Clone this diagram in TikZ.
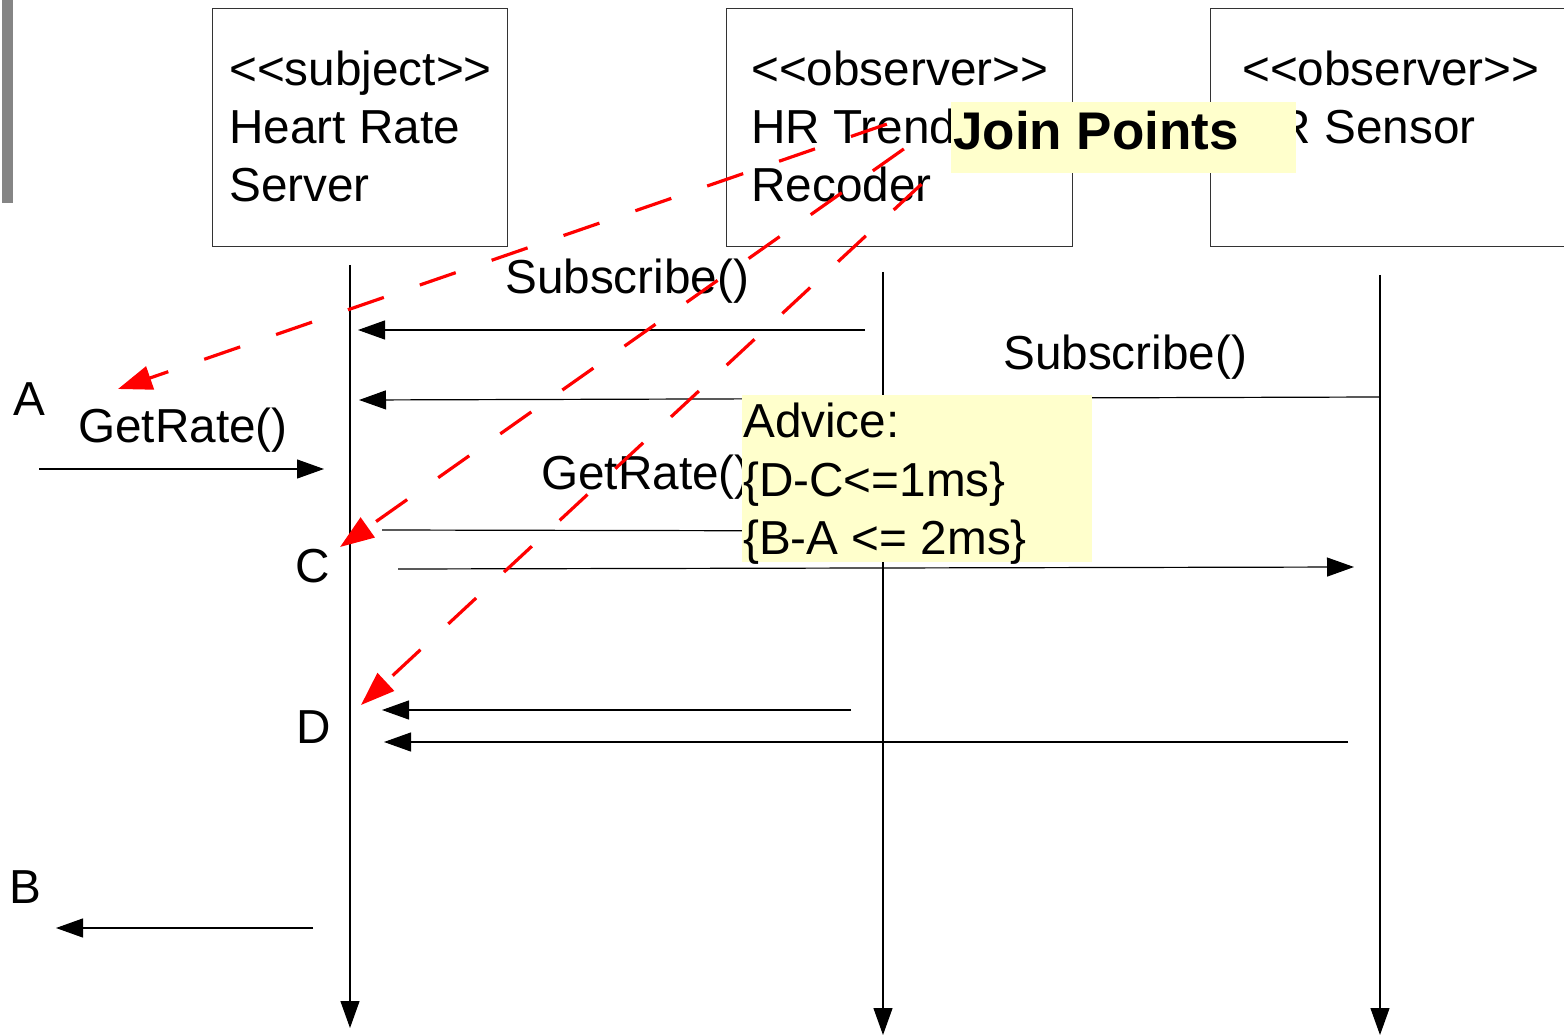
\documentclass[tikz,border=0pt]{standalone}
\usepackage{fontspec}
\setmainfont{Liberation Sans}
\usetikzlibrary{arrows.meta}
\definecolor{notefill}{HTML}{FFFFCC}
\definecolor{jpred}{HTML}{FF0000}
\definecolor{barfill}{HTML}{858585}
% guillemet-safe stereotype brackets
\newcommand\stereo[1]{<\kern0pt<#1>\kern0pt>}

\begin{document}
\begin{tikzpicture}[x=1pt,y=-1pt,
  lbl/.style={anchor=base west, inner sep=0pt, font=\fontsize{47.7}{58}\selectfont},
  jplbl/.style={anchor=base west, inner sep=0pt, font=\fontsize{53}{60}\selectfont\bfseries},
  objbox/.style={draw=black!80, line width=1.3pt, anchor=north west, inner sep=0pt},
  life/.style={draw=black, line width=1.2pt, -{Triangle[length=27pt,width=19pt]}},
  msg/.style={draw=black, line width=1.2pt, -{Triangle[length=27pt,width=19pt]}},
  jp/.style={draw=jpred, line width=3.2pt, {Triangle[length=34pt,width=24pt]}-},
  note/.style={fill=notefill, anchor=north west, inner sep=0pt}]

\useasboundingbox (0,0) rectangle (1564,1035);

% margin bar
\fill[barfill] (2,0) rectangle (13,203);

% object boxes
\node[objbox, minimum width=295pt, minimum height=238pt] (srv) at (212,8) {};
\node[objbox, minimum width=346pt, minimum height=238pt] (trend) at (726,8) {};
\node[objbox, minimum width=360pt, minimum height=238pt] (sensor) at (1210,8) {};

\node[lbl] (srv1) at (229,86) {\stereo{subject}};
\node[lbl] (srv2) at (229,144) {Heart Rate};
\node[lbl] (srv3) at (229,202) {Server};
\node[lbl] (trend1) at (751,86) {\stereo{observer}};
\node[lbl] (trend2) at (751,144) {HR Trend};
\node[lbl] (trend3) at (751,202) {Recoder};
\node[lbl] (sensor1) at (1242,86) {\stereo{observer}};
\node[lbl] (sensor2) at (1242,144) {HR Sensor};

% lifelines
\coordinate (sTop) at (350,265);  \coordinate (sBot) at (350,1028);
\coordinate (tTop) at (883,272);  \coordinate (tBot) at (883,1035);
\coordinate (rTop) at (1380,275); \coordinate (rBot) at (1380,1035);
\draw[life] (sTop) -- (sBot);
\draw[life] (tTop) -- (tBot);
\draw[life] (rTop) -- (rBot);

% message ends
\coordinate (m1a) at (865,330);  \coordinate (m1b) at (358,330);
\coordinate (m2a) at (1380,397); \coordinate (m2b) at (359,400);
\coordinate (m3a) at (39,469);   \coordinate (m3b) at (324,469);
\coordinate (m4a) at (382,530);  \coordinate (m4b) at (880,531);
\coordinate (m5a) at (398,569);  \coordinate (m5b) at (1354,567);
\coordinate (m6a) at (851,710);  \coordinate (m6b) at (382,710);
\coordinate (m7a) at (1348,742); \coordinate (m7b) at (384,742);
\coordinate (m8a) at (313,928);  \coordinate (m8b) at (56,928);

\draw[msg] (m1a) -- (m1b);
\draw[msg] (m2a) -- (m2b);
\draw[msg] (m3a) -- (m3b);
\draw[msg] (m4a) -- (m4b);
\draw[msg] (m5a) -- (m5b);
\draw[msg] (m6a) -- (m6b);
\draw[msg] (m7a) -- (m7b);
\draw[msg] (m8a) -- (m8b);

% message labels and time points
\node[lbl] (sub1) at (505,294) {Subscribe()};
\node[lbl] (sub2) at (1003,369) {Subscribe()};
\node[lbl] (get1) at (78,442) {GetRate()};
\node[lbl] (get2) at (541,489) {GetRate()};
\node[lbl] (ptA) at (13,415) {A};
\node[lbl] (ptC) at (295,582) {C};
\node[lbl] (ptD) at (296,743) {D};
\node[lbl] (ptB) at (9,903) {B};

% join point pointers
\coordinate (jA) at (118,389); \coordinate (jAe) at (893,122);
\coordinate (jC) at (340,547); \coordinate (jCe) at (908,146);
\coordinate (jD) at (361,705); \coordinate (jDe) at (927,179);
\draw[jp, dash pattern=on 38pt off 38pt, dash phase=18pt] (jA) -- (jAe);
\draw[jp, dash pattern=on 38pt off 38pt, dash phase=65pt] (jC) -- (jCe);
\draw[jp, dash pattern=on 38pt off 38pt, dash phase=66pt] (jD) -- (jDe);

% notes
\node[note, minimum width=345pt, minimum height=71pt] (jpbox) at (951,102) {};
\node[jplbl] (jptext) at (953,150) {Join Points};
\node[note, minimum width=350pt, minimum height=167pt] (advice) at (742,395) {};
\node[lbl] (adv1) at (743,437) {Advice:};
\node[lbl] (adv2) at (743,496) {\{D-C<=1ms\}};
\node[lbl] (adv3) at (743,554) {\{B-A <= 2ms\}};
\end{tikzpicture}
\end{document}
